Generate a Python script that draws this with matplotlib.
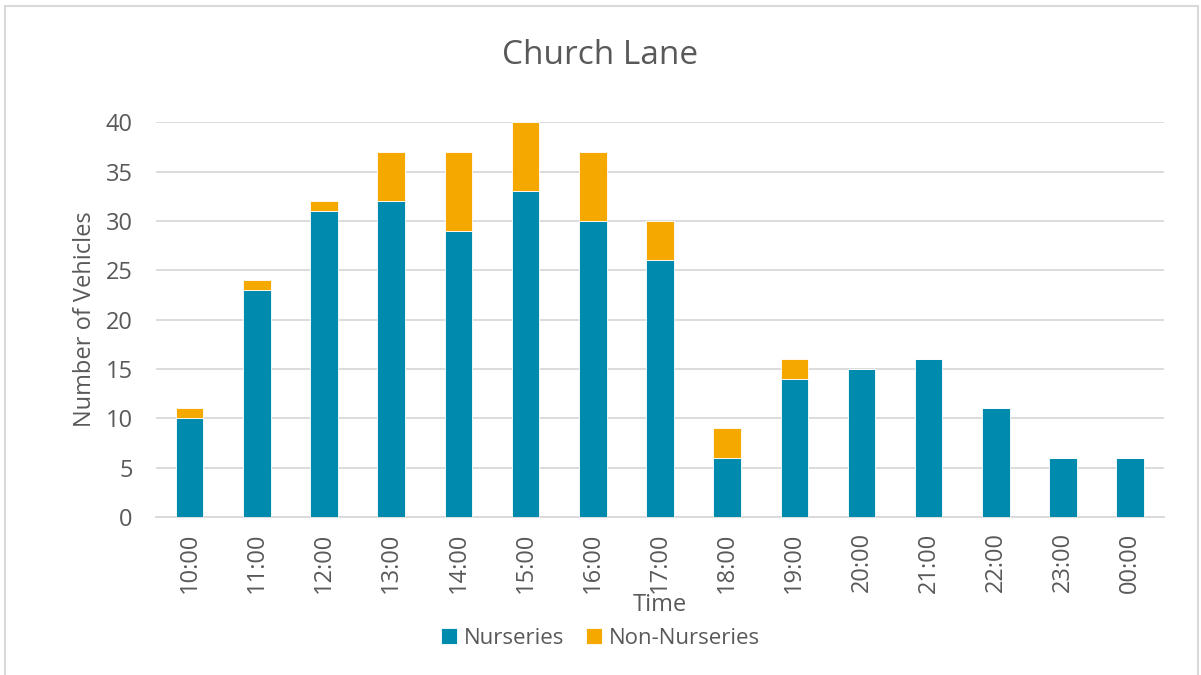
import matplotlib
matplotlib.use("Agg")
import matplotlib.pyplot as plt
from matplotlib.patches import Rectangle
import numpy as np

plt.rcParams['font.family'] = ['Open Sans', 'DejaVu Sans']

# Data
times = ["10:00", "11:00", "12:00", "13:00", "14:00", "15:00", "16:00", "17:00",
         "18:00", "19:00", "20:00", "21:00", "22:00", "23:00", "00:00"]
nurseries = [10, 23, 31, 32, 29, 33, 30, 26, 6, 14, 15, 16, 11, 6, 6]
non_nurseries = [1, 1, 1, 5, 8, 7, 7, 4, 3, 2, 0, 0, 0, 0, 0]

teal = "#008AAE"
orange = "#F5A800"
grey = "#595959"

fig = plt.figure(figsize=(12.01, 6.75), dpi=100)
ax = fig.add_axes([0.130, 0.234, 0.839, 0.585])

x = np.arange(len(times))
ax.bar(x, nurseries, width=0.41, color=teal, edgecolor="white", linewidth=0.6,
       label="Nurseries", zorder=3)
ax.bar(x, non_nurseries, width=0.41, bottom=nurseries, color=orange,
       edgecolor="white", linewidth=0.6, label="Non-Nurseries", zorder=3)

ax.set_xlim(-0.5, len(times) - 0.5)
ax.set_ylim(0, 40)
ax.set_yticks(range(0, 41, 5))
ax.set_xticks(x)
ax.set_xticklabels(times, rotation=90)
ax.grid(axis="y", color="#D9D9D9", linewidth=1.3, zorder=0)
for s in ["top", "right", "left"]:
    ax.spines[s].set_visible(False)
ax.spines["bottom"].set_color("#D9D9D9")
ax.spines["bottom"].set_linewidth(1.3)
ax.tick_params(axis="both", length=0, labelsize=17, colors=grey)
ax.tick_params(axis="y", pad=17)
ax.tick_params(axis="x", pad=11)

ax.set_xlabel("Time", fontsize=17, color=grey, labelpad=0)
ax.set_ylabel("Number of Vehicles", fontsize=17, color=grey, labelpad=6)
fig.text(0.5, 1 - 55 / 675, "Church Lane", ha="center", va="center",
         fontsize=24, color=grey)

fig.legend(loc="center", bbox_to_anchor=(0.5, 1 - 638 / 675), ncol=2,
           frameon=False, fontsize=16, labelcolor=grey, handlelength=0.7,
           handleheight=0.7, handletextpad=0.3, columnspacing=1.0)

# chart border
fig.patches.append(Rectangle((5 / 1201, -0.01), 1193 / 1201, 1 - 6 / 675 + 0.01,
                             transform=fig.transFigure, fill=False,
                             edgecolor="#D9D9D9", linewidth=1.5))

fig.savefig("out.png", dpi=100)
